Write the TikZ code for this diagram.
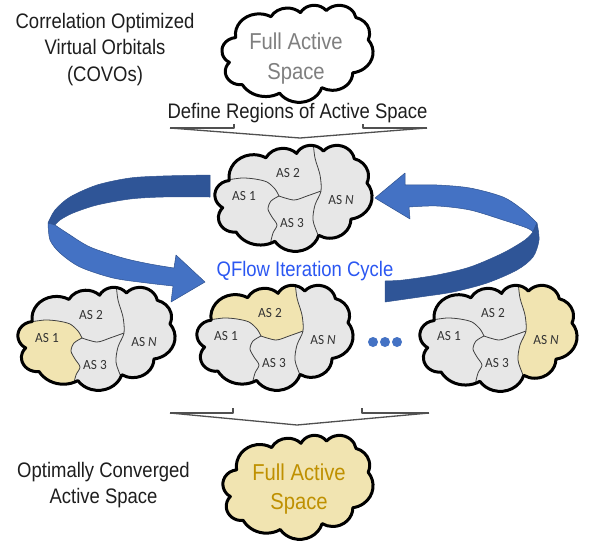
\documentclass[tikz,border=0pt]{standalone}
\usepackage{fontspec}
\setmainfont{Liberation Sans}
\newfontfamily\nar[FakeStretch=0.88]{Liberation Sans}
\newfontfamily\labf[FakeStretch=0.95]{Carlito}
\definecolor{cloudgray}{HTML}{E7E7E7}
\definecolor{hl}{HTML}{F1E4B1}
\definecolor{arrdark}{HTML}{2F5597}
\definecolor{arrlight}{HTML}{4472C4}
\definecolor{arredge}{HTML}{2F528F}
\definecolor{qblue}{HTML}{2B57F2}
\definecolor{goldtxt}{HTML}{BF9000}
\definecolor{txtgray}{HTML}{7F7F7F}
\definecolor{txtmain}{HTML}{1E1E1E}
\definecolor{labtxt}{HTML}{333333}
\definecolor{brk}{HTML}{505050}
\definecolor{rline}{HTML}{404040}
\definecolor{dotblue}{HTML}{4472C4}

\newcommand\ca[4]{arc[x radius=#1, y radius=#2, start angle={cvp(#3,#1,#2)}, delta angle={cdl(#3,#4,#1,#2)}]}
\newcommand\cloudpath{(39,143.7) \ca{67.53}{91.90}{-190.48748}{123.78053} \ca{53.33}{72.67}{-144.10238}{89.94523} \ca{43.65}{59.45}{-145.80792}{99.72302} \ca{48.57}{65.95}{-130.98607}{117.24173} \ca{53.33}{72.73}{-78.70888}{109.02692} \ca{67.75}{92.20}{-46.26725}{130.269} \ca{57.85}{78.67}{0.62502}{114.03333} \ca{67.52}{92.15}{22.4516}{115.17255} \ca{77.20}{105.43}{66.24263}{75.71102} \ca{43.60}{59.18}{-274.94208}{146.73557} \ca{43.45}{59.45}{-246.8285}{152.51885} -- cycle}

\newcommand\bonetwo{plot[smooth] coordinates {(12,35) (27,33) (40,34) (52,37) (60,44) (64,51)}}
\newcommand\bonethree{plot[smooth] coordinates {(64,51) (56,56) (53,64) (57,72) (62,80) (58,88) (55,100)}}
\newcommand\btwothree{plot[smooth] coordinates {(64,51) (79,55) (92,51) (106,46)}}
\newcommand\bnn{plot[smooth] coordinates {(98,-4) (100,13) (105,30) (106,46) (100,60) (98,75) (103,90) (110,108)}}

\newcommand\hlone{\fill[hl] plot[smooth] coordinates {(12,35) (27,33) (40,34) (52,37) (60,44) (64,51)} -- plot[smooth] coordinates {(64,51) (56,56) (53,64) (57,72) (62,80) (58,88) (55,100)} -- (55,130) -- (-20,130) -- (-20,35) -- cycle;}
\newcommand\hltwo{\fill[hl] (-20,35) -- plot[smooth] coordinates {(12,35) (27,33) (40,34) (52,37) (60,44) (64,51)} -- plot[smooth] coordinates {(64,51) (79,55) (92,51) (106,46)} -- plot[smooth] coordinates {(106,46) (105,30) (100,13) (98,-4)} -- (98,-20) -- (-20,-20) -- cycle;}
\newcommand\hlN{\fill[hl] plot[smooth] coordinates {(98,-4) (100,13) (105,30) (106,46) (100,60) (98,75) (103,90) (110,108)} -- (110,130) -- (190,130) -- (190,-20) -- (98,-20) -- cycle;}

% #1 name, #2 x, #3 y, #4 W, #5 H, #6 fill colour
\newcommand\plaincloud[6]{%
  \pgfmathsetmacro\cx{#4/432}\pgfmathsetmacro\cy{#5/432}%
  \begin{scope}[shift={(#2,#3)}]
    \begin{scope}[x=\cx pt, y=-\cy pt]
      \path[fill=#6, cloudline] \cloudpath;
    \end{scope}
  \end{scope}}

% #1 name, #2 x, #3 y, #4 W, #5 H, #6 highlight code
\newcommand\regioncloud[6]{%
  \pgfmathsetmacro\cx{#4/432}\pgfmathsetmacro\cy{#5/432}%
  \begin{scope}[shift={(#2,#3)}]
    \begin{scope}[x=\cx pt, y=-\cy pt]
      \fill[cloudgray] \cloudpath;
      \clip \cloudpath;
      \begin{scope}[x=1pt, y=-1pt]
        #6
        \draw[regline] \bonetwo;
        \draw[regline] \bonethree;
        \draw[regline] \btwothree;
        \draw[regline] \bnn;
      \end{scope}
    \end{scope}
    \begin{scope}[x=\cx pt, y=-\cy pt]
      \draw[cloudline] \cloudpath;
    \end{scope}
    \node[aslab] (#1-1) at (29,51) {AS 1};
    \node[aslab] (#1-2) at (73,28) {AS 2};
    \node[aslab] (#1-3) at (77,78) {AS 3};
    \node[aslab] (#1-n) at (126,55) {AS \textit{N}};
  \end{scope}}

\begin{document}
\begin{tikzpicture}[x=1pt, y=-1pt,
  declare function={
    cvp(\a,\rx,\ry)=atan2(\rx*sin(\a),\ry*cos(\a));
    cdl(\a,\w,\rx,\ry)=cvp(\a+\w,\rx,\ry)-cvp(\a,\rx,\ry)-360*round((cvp(\a+\w,\rx,\ry)-cvp(\a,\rx,\ry)-\w)/360);
  },
  cloudline/.style={draw=black, line width=3pt, line join=round},
  regline/.style={draw=rline, line width=0.8pt},
  aslab/.style={font=\labf\fontsize{14}{16}\selectfont, text=labtxt, inner sep=0pt},
  maintxt/.style={font=\nar\fontsize{21}{25}\selectfont, text=txtmain, inner sep=0pt, anchor=base},
  cloudtxt/.style={font=\nar\fontsize{23}{27}\selectfont, inner sep=0pt, anchor=base},
  bracket/.style={draw=brk, line width=1.3pt, line join=round},
  ribbon/.style={draw=arredge, line width=0.5pt, line join=round}]
\useasboundingbox (0,0) rectangle (595,550);
\fill[white] (0,0) rectangle (595,550);

% texts
\node[maintxt] (covo1) at (105,28) {Correlation Optimized};
\node[maintxt] (covo2) at (105,54.5) {Virtual Orbitals};
\node[maintxt] (covo3) at (105,81) {(COVOs)};
\node[maintxt] (opt1) at (103.5,477) {Optimally Converged};
\node[maintxt] (opt2) at (103.5,503) {Active Space};
\node[maintxt] (define) at (297.5,118.5) {Define Regions of Active Space};
\node[maintxt, text=qblue] (qflow) at (305,276) {QFlow Iteration Cycle};

% top and bottom clouds
\plaincloud{topcloud}{222}{5}{151}{97}{white}
\node[cloudtxt, text=txtgray] (fa1) at (296,49) {Full Active};
\node[cloudtxt, text=txtgray] (fa2) at (296,79) {Space};
\plaincloud{botcloud}{223}{435}{150}{104}{hl}
\node[cloudtxt, text=goldtxt] (fb1) at (299,480) {Full Active};
\node[cloudtxt, text=goldtxt] (fb2) at (299,509) {Space};

% brackets
\coordinate (b1l) at (170,128); \coordinate (b1r) at (427,128); \coordinate (b1a) at (300,138);
\draw[bracket] (b1l) -- (234,128) -- (234,124);
\draw[bracket] (363,124) -- (363,128) -- (b1r);
\draw[bracket] (b1l) -- (b1a) -- (b1r);
\coordinate (b2l) at (170,413); \coordinate (b2r) at (429,413); \coordinate (b2a) at (297,425);
\draw[bracket] (b2l) -- (233,413) -- (233,408);
\draw[bracket] (362,408) -- (362,413) -- (b2r);
\draw[bracket] (b2l) -- (b2a) -- (b2r);

% region clouds
\regioncloud{mid}{215}{145}{157}{106}{}
\regioncloud{c1}{18}{287}{157}{103}{\hlone}
\regioncloud{c2}{197}{285}{156}{105}{\hltwo}
\regioncloud{cn}{420}{285}{157}{106}{\hlN}

% dots
\node[circle, fill=dotblue, inner sep=0pt, minimum size=10pt] (dot1) at (373,342) {};
\node[circle, fill=dotblue, inner sep=0pt, minimum size=10pt] (dot2) at (385,342) {};
\node[circle, fill=dotblue, inner sep=0pt, minimum size=10pt] (dot3) at (397,342) {};

% left ribbon arrow
\path[ribbon, fill=arrdark] plot[smooth] coordinates {(210,175) (163,176) (130,178) (97,185) (70,197) (55,210) (48,223)}
  -- plot[smooth] coordinates {(55,225) (60,220) (73,213) (97,205) (130,199) (163,197) (210,197)} -- cycle;
\path[ribbon, fill=arrlight] plot[smooth] coordinates {(48,223) (50,240) (60,253) (80,267) (113,278) (147,283) (173,286)}
  -- (171,302) -- (205,282) -- (176,255) -- (174,268)
  -- plot[smooth] coordinates {(174,268) (150,264) (123,258) (90,247) (67,233) (55,225)} -- cycle;

% right ribbon arrow
\path[ribbon, fill=arrlight] plot[smooth] coordinates {(405,185) (437,185) (470,188) (503,197) (523,210) (537,223)}
  -- plot[smooth] coordinates {(533,232) (527,228) (503,220) (470,210) (437,206) (409,207)}
  -- (410,219) -- (375,198) -- (405,173) -- cycle;
\path[ribbon, fill=arrdark] plot[smooth] coordinates {(537,223) (539,240) (533,257) (517,270) (487,283) (453,292) (420,297) (385,302)}
  -- (385,281) -- plot[smooth] coordinates {(385,281) (403,280) (437,275) (470,267) (503,253) (525,240) (533,232)} -- cycle;
\end{tikzpicture}
\end{document}
